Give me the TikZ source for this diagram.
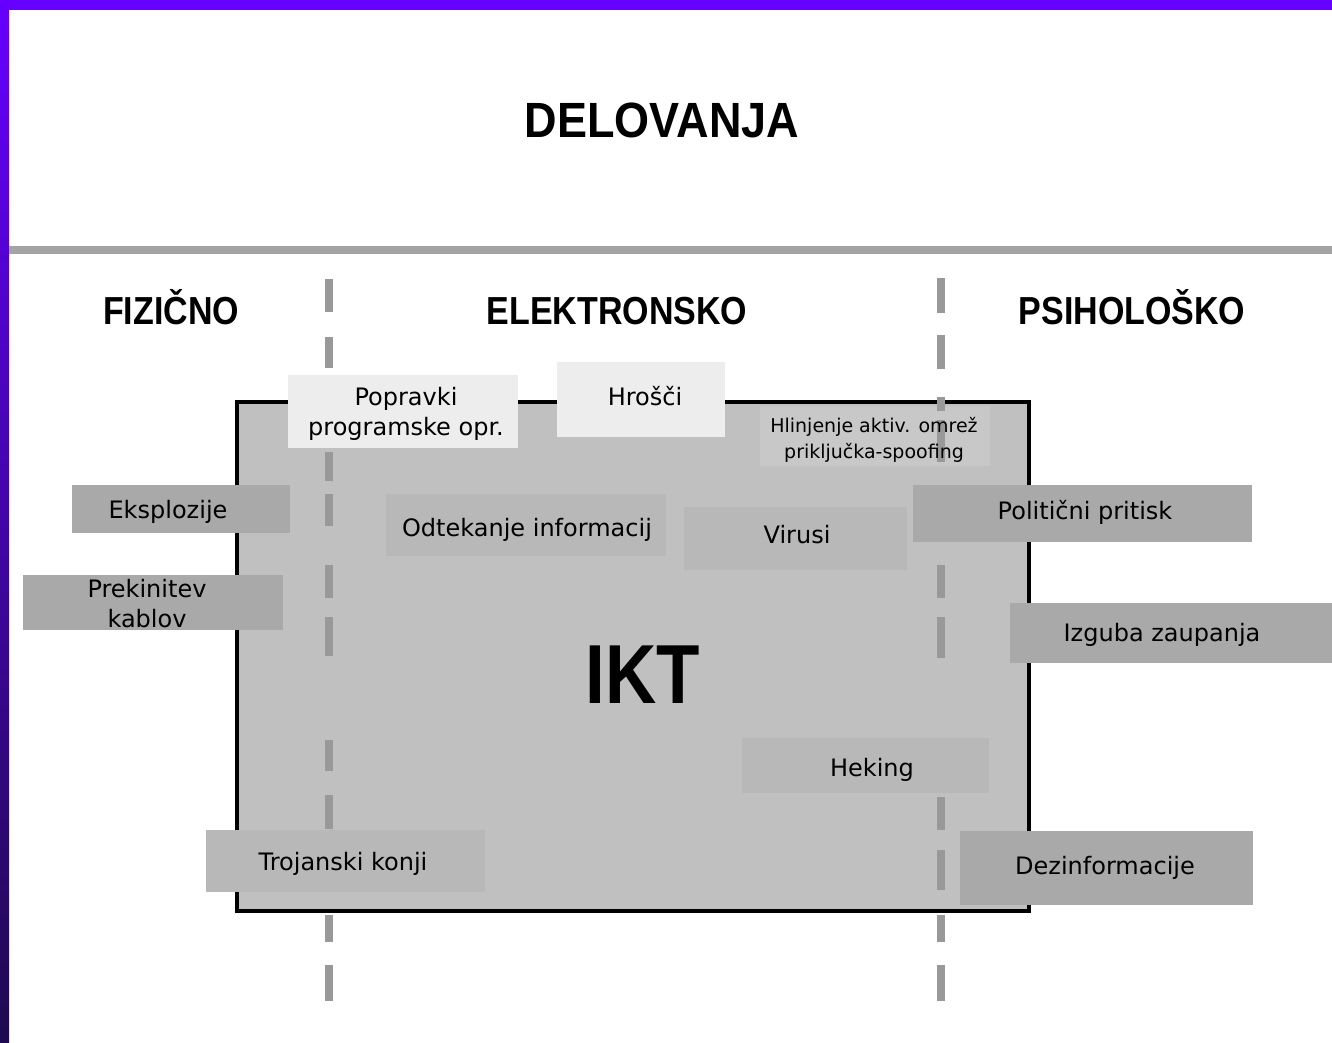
\documentclass[tikz,border=0pt]{standalone}
\usepackage{fontspec}
\setmainfont{DejaVu Sans}
\newfontfamily\headfont{Liberation Sans}
\definecolor{purpletop}{HTML}{6600FF}
\definecolor{purplebot}{HTML}{1E0A50}
\definecolor{rulegray}{HTML}{A3A3A3}
\definecolor{dashgray}{HTML}{999999}
\definecolor{iktfill}{HTML}{C0C0C0}
\definecolor{outerbox}{HTML}{A9A9A9}
\definecolor{innerbox}{HTML}{B8B8B8}
\definecolor{lightbox}{HTML}{EDEDED}
\definecolor{spoofbox}{HTML}{C8C8C8}
\tikzset{
  boxnode/.style={rectangle, draw=none, inner sep=0pt, outer sep=0pt},
  obox/.style={boxnode, fill=outerbox},
  ibox/.style={boxnode, fill=innerbox},
  lbox/.style={boxnode, fill=lightbox},
  sbox/.style={boxnode, fill=spoofbox},
  lbl/.style={inner sep=0pt, anchor=base, text=black, font=\fontsize{24}{26}\selectfont},
  mlbl/.style={inner sep=0pt, anchor=center, align=center, text=black},
  head/.style={inner sep=0pt, anchor=base, text=black},
  dashseg/.style={draw=dashgray, line width=8pt, line cap=butt},
}
\begin{document}
\begin{tikzpicture}[x=1pt,y=-1pt]
\useasboundingbox (0,0) rectangle (1332,1042);
\fill[white] (0,0) rectangle (1332,1042);
% purple frame
\fill[purpletop] (0,0) rectangle (1332,10);
\shade[top color=purpletop, bottom color=purplebot] (0,0) rectangle (9,1042);
% gray rule
\fill[rulegray] (9,246) rectangle (1332,254);
% title and headings
\node[head, font=\headfont\bfseries\fontsize{45}{50}\selectfont] (title) at (662,137) {\scalebox{1}[1.1]{DELOVANJA}};
\node[head, font=\headfont\bfseries\fontsize{34}{40}\selectfont] (hfiz) at (171,324) {\scalebox{1}[1.15]{FIZIČNO}};
\node[head, font=\headfont\bfseries\fontsize{34}{40}\selectfont] (hele) at (617,324) {\scalebox{1}[1.15]{ELEKTRONSKO}};
\node[head, font=\headfont\bfseries\fontsize{34}{40}\selectfont] (hpsi) at (1132,324) {\scalebox{1}[1.15]{PSIHOLOŠKO}};
% IKT frame
\node[boxnode, fill=iktfill, draw=black, line width=4pt, minimum width=792pt, minimum height=509pt] (ikt) at (633,656.5) {};
\node[head, font=\headfont\bfseries\fontsize{71}{80}\selectfont] (iktlabel) at (643,703) {\scalebox{1}[1.18]{IKT}};
% spoofing box (under dashes)
\node[sbox, minimum width=230pt, minimum height=60pt] (bhli) at (875,436) {};
% dashed separators
\foreach \a/\b in {279/312,337/368,452/481,494/526,565/598,617/656,740/771,795/829,915/942,965/1001}
  \draw[dashseg] (329,\a) -- (329,\b);
\foreach \a/\b in {278/313,335/369,397/411,420/462,565/598,617/658,797/830,850/890,915/942,965/1001}
  \draw[dashseg] (941,\a) -- (941,\b);
% boxes
\node[lbox, minimum width=230pt, minimum height=73pt] (bpop) at (403,411.5) {};
\node[lbox, minimum width=168pt, minimum height=75pt] (bhro) at (641,399.5) {};
\node[obox, minimum width=218pt, minimum height=48pt] (beks) at (181,509) {};
\node[obox, minimum width=260pt, minimum height=55pt] (bpre) at (153,602.5) {};
\node[ibox, minimum width=280pt, minimum height=62pt] (bodt) at (526,525) {};
\node[ibox, minimum width=223pt, minimum height=63pt] (bvir) at (795.5,538.5) {};
\node[obox, minimum width=339pt, minimum height=57pt] (bpol) at (1082.5,513.5) {};
\node[obox, minimum width=322pt, minimum height=60pt] (bizg) at (1171,633) {};
\node[ibox, minimum width=247pt, minimum height=55pt] (bhek) at (865.5,765.5) {};
\node[obox, minimum width=293pt, minimum height=74pt] (bdez) at (1106.5,868) {};
\node[ibox, minimum width=279pt, minimum height=62pt] (btro) at (345.5,861) {};
% labels
\node[mlbl, font=\fontsize{24}{30}\selectfont] (tpop) at (406,413.4) {Popravki\\programske opr.};
\node[lbl] (thro) at (645,405) {Hrošči};
\node[mlbl, font=\fontsize{19}{26}\selectfont] (thli) at (874,439.8) {Hlinjenje aktiv. omrež\\priključka-spoofing};
\node[lbl] (teks) at (168,518) {Eksplozije};
\node[mlbl, font=\fontsize{24}{30}\selectfont] (tpre) at (147,603.9) {Prekinitev\\kablov};
\node[lbl] (todt) at (527,536) {Odtekanje informacij};
\node[lbl] (tvir) at (797,543) {Virusi};
\node[lbl] (tpol) at (1085,519) {Politični pritisk};
\node[lbl] (tizg) at (1162,641) {Izguba zaupanja};
\node[lbl] (thek) at (872,776) {Heking};
\node[lbl] (tdez) at (1105,874) {Dezinformacije};
\node[lbl] (ttro) at (343,870) {Trojanski konji};
\end{tikzpicture}
\end{document}
